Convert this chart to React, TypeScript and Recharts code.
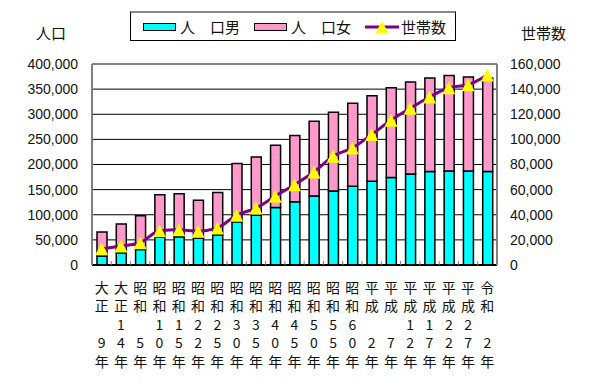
import React from "react";
import {
  ComposedChart,
  Bar,
  Line,
  XAxis,
  YAxis,
  CartesianGrid,
  Legend,
  ReferenceLine,
} from "recharts";

// ---- data ----
const categories = [
  "大正9年", "大正14年", "昭和5年", "昭和10年", "昭和15年", "昭和22年", "昭和25年",
  "昭和30年", "昭和35年", "昭和40年", "昭和45年", "昭和50年", "昭和55年", "昭和60年",
  "平成2年", "平成7年", "平成12年", "平成17年", "平成22年", "平成27年", "令和2年",
];
const malePop = [
  18000, 24500, 31000, 55000, 56000, 53500, 60000, 86000, 99000, 114500, 126000,
  137500, 147500, 156500, 166500, 174000, 181000, 186000, 187000, 187000, 186000,
];
const femalePop = [
  47500, 57000, 67000, 85000, 86000, 75500, 84500, 116000, 116000, 124000, 131500,
  148500, 156500, 165500, 170500, 178500, 183000, 186000, 190000, 187000, 186000,
];
const households = [
  12900, 15100, 17700, 27300, 28000, 26900, 29500, 39700, 45300, 54800, 63900,
  74000, 86600, 93200, 103800, 115200, 124700, 133700, 141100, 143500, 151300,
];
const popTicks = [0, 50000, 100000, 150000, 200000, 250000, 300000, 350000, 400000];
const hhTicks = [0, 20000, 40000, 60000, 80000, 100000, 120000, 140000, 160000];
const maleName = "人　口男";
const femaleName = "人　口女";
const hhName = "世帯数";
const leftTitle = "人口";
const rightTitle = "世帯数";
const legendOrder = ["male", "female", "households"];

const data = categories.map((c, i) => ({
  name: c,
  male: malePop[i],
  female: femalePop[i],
  households: households[i],
}));

// ---- layout ----
const W = 595;
const H = 386;
const LEFT_W = 92;
const RIGHT_W = 98;
const TOP = 64;
const X_H = 121;
const PLOT_W = W - LEFT_W - RIGHT_W;
const STEP = PLOT_W / categories.length;
const CJK = "'Noto Sans CJK JP', sans-serif";
const NUM = "'Liberation Sans', Arial, sans-serif";

const fmt = (v: number) => v.toLocaleString("en-US");

const XTick = (props: any) => {
  const { x, y, payload, index } = props;
  const label: string = String(payload.value);
  const era = label.slice(0, 2);
  const num = label.slice(2, label.length - 1);
  const tens = num.length > 1 ? num[0] : "";
  const units = num[num.length - 1];
  const rows = [era[0], era[1], tens, units, "年"];
  return (
    <g>
      {index > 0 && (
        <line x1={x - STEP / 2} x2={x - STEP / 2} y1={y} y2={y - 4} stroke="#808080" strokeWidth={1} />
      )}
      {rows.map((r, i) => (
        <text
          key={i}
          x={x}
          y={y + 21.5 + i * 18.6}
          textAnchor="middle"
          dominantBaseline="central"
          fontFamily={CJK}
          fontSize={14}
          fill="#111"
        >
          {r}
        </text>
      ))}
    </g>
  );
};

const Triangle = (props: any) => {
  const { cx, cy } = props;
  if (cx == null || cy == null) return null;
  return (
    <polygon
      points={`${cx},${cy - 6.5} ${cx - 6.5},${cy + 6.5} ${cx + 6.5},${cy + 6.5}`}
      fill="#FFFF00"
      stroke="none"
    />
  );
};

const LegendBox = (props: any) => {
  const raw: any[] = props.payload || [];
  const payload = legendOrder
    .map((k) => raw.find((e) => e.dataKey === k))
    .filter(Boolean) as any[];
  return (
    <div
      style={{
        width: 326,
        height: 30,
        boxSizing: "border-box",
        border: "1px solid #000",
        borderTop: "2px solid #888",
        background: "#fff",
        display: "flex",
        alignItems: "center",
        paddingLeft: 12,
        fontFamily: CJK,
        fontSize: 15,
        color: "#111",
        lineHeight: "15px",
        whiteSpace: "nowrap",
      }}
    >
      {payload.map((entry, i) => {
        const isLine = entry.dataKey === "households";
        return (
          <div
            key={i}
            style={{ display: "flex", alignItems: "center", marginRight: 14, flexShrink: 0 }}
          >
            {isLine ? (
              <svg width={34} height={14} style={{ marginRight: 2, flexShrink: 0 }}>
                <line x1={0} x2={34} y1={7} y2={7} stroke="#800080" strokeWidth={3} />
                <polygon points="17,1 10.5,13 23.5,13" fill="#FFFF00" />
              </svg>
            ) : (
              <div
                style={{
                  width: 31,
                  height: 6,
                  background: entry.color,
                  border: "1.5px solid #000",
                  marginRight: 4,
                  flexShrink: 0,
                }}
              />
            )}
            <span style={{ whiteSpace: "nowrap" }}>{entry.value}</span>
          </div>
        );
      })}
    </div>
  );
};

export default function App() {
  return (
    <div style={{ position: "absolute", left: 0, top: 0, width: W, height: H, background: "#fff" }}>
      <ComposedChart
        width={W}
        height={H}
        data={data}
        margin={{ top: TOP, right: 0, bottom: 0, left: 0 }}
      >
        <CartesianGrid vertical={false} stroke="#000" strokeWidth={1} yAxisId="left" />
        <XAxis
          dataKey="name"
          height={X_H}
          interval={0}
          tick={<XTick />}
          tickLine={false}
          tickSize={0}
          tickMargin={0}
          axisLine={{ stroke: "#000", strokeWidth: 2 }}
        />
        <YAxis
          yAxisId="left"
          width={LEFT_W}
          domain={[0, 400000]}
          ticks={popTicks}
          tickFormatter={fmt}
          tickLine={false}
          tickSize={6}
          tickMargin={8}
          axisLine={{ stroke: "#808080", strokeWidth: 2 }}
          tick={{ fontFamily: NUM, fontSize: 14, fill: "#111" }}
        />
        <YAxis
          yAxisId="right"
          orientation="right"
          width={RIGHT_W}
          domain={[0, 160000]}
          ticks={hhTicks}
          tickFormatter={fmt}
          tickLine={false}
          tickSize={6}
          tickMargin={7}
          axisLine={{ stroke: "#808080", strokeWidth: 2 }}
          tick={{ fontFamily: NUM, fontSize: 14, fill: "#111", textAnchor: "start" }}
        />
        <ReferenceLine yAxisId="left" y={400000} stroke="#808080" strokeWidth={1.5} />
        <Legend
          layout="horizontal"
          verticalAlign="middle"
          align="center"
          content={<LegendBox />}
          wrapperStyle={{ position: "absolute", left: 130, top: 11, width: 326, height: 30 }}
        />
        <Bar
          yAxisId="left"
          dataKey="male"
          name={maleName}
          stackId="pop"
          fill="#00FFFF"
          stroke="#000"
          strokeWidth={1.5}
          barSize={10}
          isAnimationActive={false}
        />
        <Bar
          yAxisId="left"
          dataKey="female"
          name={femaleName}
          stackId="pop"
          fill="#FF99CC"
          stroke="#000"
          strokeWidth={1.5}
          barSize={10}
          isAnimationActive={false}
        />
        <Line
          yAxisId="right"
          dataKey="households"
          name={hhName}
          type="monotone"
          stroke="#800080"
          strokeWidth={3}
          dot={<Triangle />}
          activeDot={false}
          isAnimationActive={false}
        />
      </ComposedChart>
      <div
        style={{
          position: "absolute",
          left: 36,
          top: 25,
          fontFamily: CJK,
          fontSize: 15,
          lineHeight: "16px",
          color: "#111",
        }}
      >
        {leftTitle}
      </div>
      <div
        style={{
          position: "absolute",
          left: 521,
          top: 25,
          fontFamily: CJK,
          fontSize: 15,
          lineHeight: "16px",
          color: "#111",
        }}
      >
        {rightTitle}
      </div>
    </div>
  );
}
